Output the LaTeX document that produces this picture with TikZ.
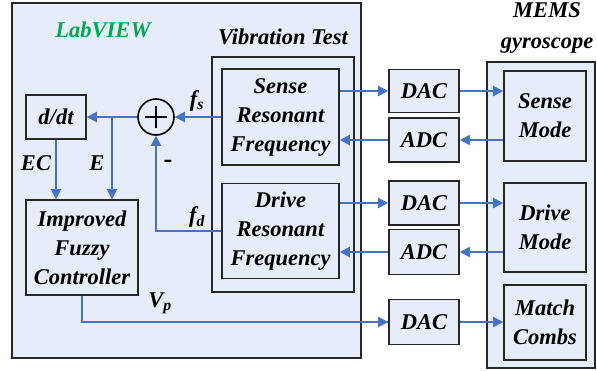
\documentclass[tikz,border=0pt]{standalone}
\usepackage{fontspec}
\setmainfont{Liberation Serif}
\definecolor{panelfill}{RGB}{231, 237, 248}
\definecolor{sigblue}{RGB}{68, 114, 196}
\definecolor{labgreen}{RGB}{0, 170, 80}
\usepackage{tikz}
\usetikzlibrary{arrows.meta, positioning}

\begin{document}
\begin{tikzpicture}[
    x=1pt, y=-1pt,
    every node/.style={font=\fontsize{22.5}{29}\selectfont\bfseries\itshape},
    box/.style={draw=black!85, line width=1.6pt, fill=panelfill, align=center,
                inner sep=0pt},
    frame/.style={draw=black!85, line width=2pt, fill=panelfill, inner sep=0pt},
    arr/.style={-{Triangle[length=10pt, width=10pt]}, sigblue, line width=2pt},
    wire/.style={sigblue, line width=2pt},
    lbl/.style={inner sep=0pt}
]
    \useasboundingbox (0,0) rectangle (597,370);

    % outer frames
    \node[frame, minimum width=349pt, minimum height=355pt] (lab) at (186.5,180.5) {};
    \node[frame, minimum width=108pt, minimum height=306pt] (mems) at (541,215) {};
    \node[frame, minimum width=142pt, minimum height=235pt] (vib) at (283,174.5) {};

    % blocks
    \node[box, minimum width=117pt, minimum height=96pt] (sensef) at (280.5,117)
        {Sense\\Resonant\\Frequency};
    \node[box, minimum width=117pt, minimum height=95pt] (drivef) at (280.5,231)
        {Drive\\Resonant\\Frequency};
    \node[box, minimum width=60pt, minimum height=44pt] (ddt) at (56,117) {d/dt};
    \node[box, minimum width=112pt, minimum height=95pt] (fuzzy) at (82,247.5)
        {Improved\\Fuzzy\\Controller};
    \node[draw=black, line width=1.6pt, fill=panelfill, circle, minimum size=36pt,
          inner sep=0pt] (sum) at (156,117) {};
    \draw[line width=1.3pt] ([xshift=-11pt]sum.center) -- ([xshift=11pt]sum.center)
        ([yshift=-11pt]sum.center) -- ([yshift=11pt]sum.center);

    \node[box, minimum width=70pt, minimum height=43pt] (dac1) at (424,91) {DAC};
    \node[box, minimum width=70pt, minimum height=44pt] (adc1) at (424,140) {ADC};
    \node[box, minimum width=70pt, minimum height=44pt] (dac2) at (424,203) {DAC};
    \node[box, minimum width=70pt, minimum height=45pt] (adc2) at (424,252) {ADC};
    \node[box, minimum width=70pt, minimum height=45pt] (dac3) at (424,322) {DAC};

    \node[box, minimum width=82pt, minimum height=90pt] (sensem) at (545,116) {Sense\\Mode};
    \node[box, minimum width=82pt, minimum height=89pt] (drivem) at (545,227.5) {Drive\\Mode};
    \node[box, minimum width=82pt, minimum height=75pt] (match) at (545,322.5) {Match\\Combs};

    % titles and labels
    \node[lbl, text=labgreen] (labt) at (103,30) {LabVIEW};
    \node[lbl] (vibt) at (283,37) {Vibration Test};
    \node[lbl, align=center, font=\fontsize{22.5}{31}\selectfont\bfseries\itshape]
        (memst) at (547,28) {MEMS\\gyroscope};
    \node[lbl] (fs) at (197,101) {f\textsubscript{s}};
    \node[lbl] (fd) at (197,217) {f\textsubscript{d}};
    \node[lbl] (vp) at (160,303) {V\textsubscript{p}};
    \node[lbl] (ec) at (36,163) {EC};
    \node[lbl] (e) at (97,163) {E};
    \node[lbl, font=\fontsize{26}{26}\selectfont\bfseries] (minus) at (168,164) {-};

    % signal paths
    \coordinate (ebr) at (112,117);
    \draw[arr] (sensef.west) -- (sum.east);
    \draw[arr] (sum.west) -- (ddt.east);
    \draw[arr] (ebr) -- (ebr |- fuzzy.north);
    \draw[arr] (ddt.south) -- (ddt.south |- fuzzy.north);
    \draw[arr] (drivef.west) -| (sum.south);
    \draw[wire] (fuzzy.south) |- (dac3.west);
    \draw[arr] (fuzzy.south |- dac3.west) -- (dac3.west);

    \draw[arr] (sensef.east |- dac1.west) -- (dac1.west);
    \draw[arr] (dac1.east) -- (sensem.west |- dac1.east);
    \draw[arr] (sensem.west |- adc1.east) -- (adc1.east);
    \draw[arr] (adc1.west) -- (sensef.east |- adc1.west);

    \draw[arr] (drivef.east |- dac2.west) -- (dac2.west);
    \draw[arr] (dac2.east) -- (drivem.west |- dac2.east);
    \draw[arr] (drivem.west |- adc2.east) -- (adc2.east);
    \draw[arr] (adc2.west) -- (drivef.east |- adc2.west);

    \draw[arr] (dac3.east) -- (match.west |- dac3.east);
\end{tikzpicture}
\end{document}
